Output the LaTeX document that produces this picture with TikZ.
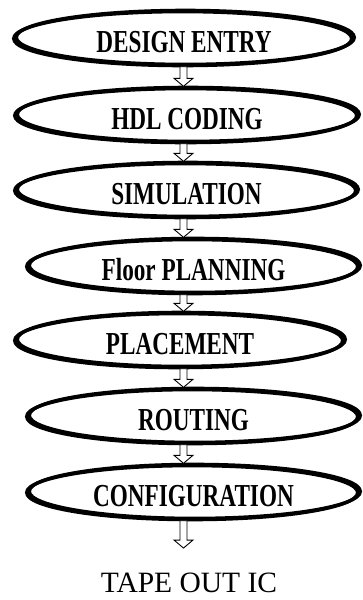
\documentclass[tikz,border=0pt]{standalone}
\usepackage{fontspec}
\setmainfont{Liberation Serif}
\usepackage{graphicx}
\usetikzlibrary{shapes.geometric,calc}
\newcommand\sqz[1]{\scalebox{0.725}[1]{#1}}
\tikzset{
  stage/.style={ellipse, line width=3.4pt, inner sep=0pt,
    preaction={draw=black, line width=3.4pt, transform canvas={xshift=1.3pt, yshift=0.6pt}},
    preaction={draw=black, line width=3.4pt, transform canvas={xshift=-1.3pt, yshift=-0.6pt}},
    font=\bfseries\fontsize{32}{32}\selectfont, text height=29.2pt, text depth=0pt,
    minimum height=54pt},
  blockarrow/.style={draw=black, fill=white, line width=0.9pt, line join=miter,
    to path={let \p1=(\tikztostart), \p2=(\tikztotarget) in
      (\x1-3.5pt,\y1) -- (\x1-3.5pt,\y2+8pt) -- (\x1-9.5pt,\y2+8pt) -- (\x1,\y2)
      -- (\x1+9.5pt,\y2+8pt) -- (\x1+3.5pt,\y2+8pt) -- (\x1+3.5pt,\y1) -- cycle}}
}
\begin{document}
\begin{tikzpicture}[x=1pt,y=-1pt]
\useasboundingbox (0,0) rectangle (363,600);
\coordinate (ax) at (183.5,0);
\node[stage, minimum width=338pt] (e1) at (184,38) {\sqz{DESIGN ENTRY}};
\node[stage, minimum width=342pt] (e2) at (187,115) {\sqz{HDL CODING}};
\node[stage, minimum width=341pt] (e3) at (186.5,190) {\sqz{SIMULATION}};
\node[stage, minimum width=331pt] (e4) at (193.5,266) {\sqz{Floor PLANNING}};
\node[stage, minimum width=328pt] (e5) at (180,340) {\sqz{PLACEMENT}};
\node[stage, minimum width=331pt] (e6) at (193.5,416) {\sqz{ROUTING}};
\node[stage, minimum width=331pt] (e7) at (193.5,492) {\sqz{CONFIGURATION}};
\node[inner sep=0pt, font=\fontsize{29.5}{29.5}\selectfont, text height=19.5pt, text depth=0pt] (tape) at (189,583) {TAPE OUT IC};
\draw[blockarrow] (e1.south -| ax) to (e2.north -| ax);
\draw[blockarrow] (e2.south -| ax) to (e3.north -| ax);
\draw[blockarrow] (e3.south -| ax) to (e4.north -| ax);
\draw[blockarrow] (e4.south -| ax) to (e5.north -| ax);
\draw[blockarrow] (e5.south -| ax) to (e6.north -| ax);
\draw[blockarrow] (e6.south -| ax) to (e7.north -| ax);
\draw[blockarrow] (e7.south -| ax) to ($(tape.north -| ax)+(0,-25)$);
\end{tikzpicture}
\end{document}
